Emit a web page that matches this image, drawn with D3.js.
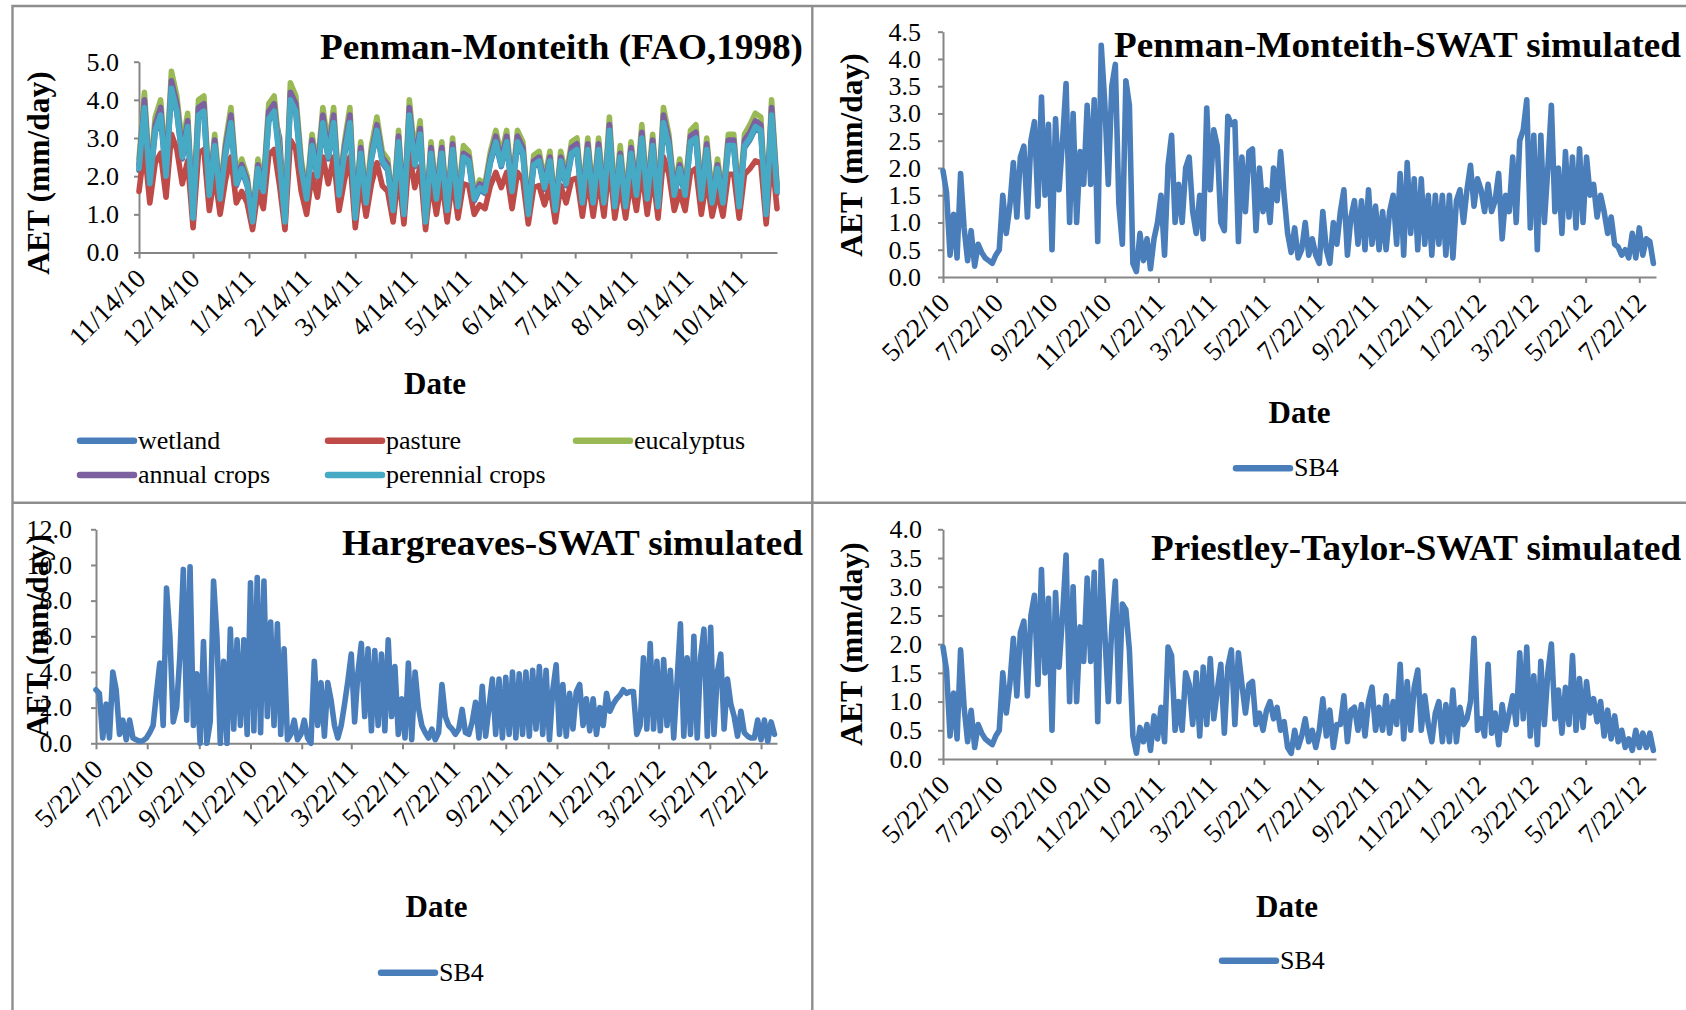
<!DOCTYPE html>
<html>
<head>
<meta charset="utf-8">
<script src="https://cdn.jsdelivr.net/npm/d3@7"></script>
<style>
  html, body { margin: 0; padding: 0; background: #fff; }
  svg { display: block; font-family: "Liberation Serif", "Times New Roman", serif; }
</style>
</head>
<body>
<svg id="chart" width="1686" height="1010"></svg>
<script>
// ---------------------------------------------------------------
// Daily actual evapotranspiration (AET, mm/day), sampled series
// ---------------------------------------------------------------

// Penman-Monteith (FAO, 1998): five land uses, one value every 3 days
const faoStart = "11/14/10";
const faoEnd = "11/3/11";
const faoStepDays = 3;
const faoSeriesNames = ["wetland", "pasture", "eucalyptus", "annual crops", "perennial crops"];

const faoWetland = [
  2.15,3.75,1.75,3.15,3.55,1.95,4.25,3.65,2.45,3.25,
  0.85,3.55,3.65,1.45,2.75,1.35,2.55,3.35,1.75,2.15,
  1.75,0.75,2.15,1.55,3.45,3.65,3.0,0.75,3.95,3.65,
  2.15,1.35,2.75,1.95,3.35,2.45,3.35,1.45,2.55,3.35,
  0.85,2.55,1.25,2.45,3.15,2.35,2.15,1.05,2.85,0.95,
  3.55,2.25,3.05,0.75,2.55,1.35,2.55,1.05,2.65,1.15,
  2.45,2.35,1.35,1.65,1.55,2.35,2.85,2.25,2.85,1.55,
  2.85,2.55,0.95,2.25,2.35,1.65,2.35,1.05,2.35,1.75,
  2.55,2.65,1.25,2.65,1.25,2.65,1.25,3.15,1.15,2.45,
  1.15,2.55,1.45,2.95,1.35,2.75,1.15,3.35,2.75,1.45,
  2.15,1.45,2.85,2.95,1.35,2.65,1.25,2.15,1.25,2.75,
  2.75,1.15,2.75,2.95,3.25,3.15,0.95,3.55,1.55
];
const faoPasture = [
  1.6,2.75,1.3,2.35,2.6,1.45,3.1,2.7,1.8,2.4,
  0.65,2.6,2.7,1.1,2.05,1.0,1.9,2.5,1.3,1.6,
  1.3,0.6,1.6,1.15,2.55,2.7,1.75,0.6,2.95,2.7,
  1.6,1.0,2.05,1.45,2.5,1.8,2.5,1.1,1.9,2.5,
  0.65,1.9,0.95,1.8,2.35,1.75,1.6,0.8,2.1,0.75,
  2.6,1.7,2.25,0.6,1.9,1.0,1.9,0.8,1.95,0.9,
  1.8,1.75,1.0,1.25,1.15,1.75,2.1,1.7,2.1,1.15,
  2.1,1.9,0.75,1.7,1.75,1.25,1.75,0.8,1.75,1.3,
  1.9,1.95,0.95,1.95,0.95,1.95,0.95,2.35,0.9,1.8,
  0.9,1.9,1.1,2.2,1.0,2.05,0.9,2.5,2.05,1.1,
  1.6,1.1,2.1,2.2,1.0,1.95,0.95,1.6,0.95,2.05,
  2.05,0.9,2.05,2.2,2.4,2.35,0.75,2.6,1.15
];
const faoEucalyptus = [
  2.45,4.2,2.0,3.55,4.0,2.2,4.75,4.1,2.8,3.65,
  1.0,4.0,4.1,1.65,3.1,1.55,2.9,3.8,2.0,2.45,
  2.0,0.9,2.45,1.8,3.9,4.1,2.65,0.9,4.45,4.1,
  2.45,1.55,3.1,2.2,3.8,2.8,3.8,1.65,2.9,3.8,
  1.0,2.9,1.45,2.8,3.55,2.65,2.45,1.2,3.2,1.1,
  4.0,2.55,3.45,0.9,2.9,1.55,2.9,1.2,3.0,1.35,
  2.8,2.65,1.55,1.9,1.8,2.65,3.2,2.55,3.2,1.8,
  3.2,2.9,1.1,2.55,2.65,1.9,2.65,1.2,2.65,2.0,
  2.9,3.0,1.45,3.0,1.45,3.0,1.45,3.55,1.35,2.8,
  1.35,2.9,1.65,3.35,1.55,3.1,1.35,3.8,3.1,1.65,
  2.45,1.65,3.2,3.35,1.55,3.0,1.45,2.45,1.45,3.1,
  3.1,1.35,3.1,3.35,3.65,3.55,1.1,4.0,1.8
];
const faoAnnualCrops = [
  2.3,4.0,1.9,3.35,3.8,2.1,4.5,3.9,2.6,3.45,
  0.95,3.8,3.9,1.6,2.95,1.45,2.75,3.6,1.9,2.3,
  1.9,0.85,2.3,1.7,3.7,3.9,2.5,0.85,4.2,3.9,
  2.3,1.45,2.95,2.1,3.6,2.6,3.6,1.6,2.75,3.6,
  0.95,2.75,1.35,2.6,3.35,2.5,2.3,1.15,3.05,1.05,
  3.8,2.4,3.25,0.85,2.75,1.45,2.75,1.15,2.85,1.25,
  2.6,2.5,1.45,1.8,1.7,2.5,3.05,2.4,3.05,1.7,
  3.05,2.75,1.05,2.4,2.5,1.8,2.5,1.15,2.5,1.9,
  2.75,2.85,1.35,2.85,1.35,2.85,1.35,3.35,1.25,2.6,
  1.25,2.75,1.6,3.15,1.45,2.95,1.25,3.6,2.95,1.6,
  2.3,1.6,3.05,3.15,1.45,2.85,1.35,2.3,1.35,2.95,
  2.95,1.25,2.95,3.15,3.45,3.35,1.05,3.8,1.7
];
const faoPerennialCrops = [
  2.2,3.8,1.8,3.2,3.6,2.0,4.3,3.7,2.5,3.3,
  0.9,3.6,3.7,1.5,2.8,1.4,2.6,3.4,1.8,2.2,
  1.8,0.8,2.2,1.6,3.5,3.7,2.4,0.8,4.0,3.7,
  2.2,1.4,2.8,2.0,3.4,2.5,3.4,1.5,2.6,3.4,
  0.9,2.6,1.3,2.5,3.2,2.4,2.2,1.1,2.9,1.0,
  3.6,2.3,3.1,0.8,2.6,1.4,2.6,1.1,2.7,1.2,
  2.5,2.4,1.4,1.7,1.6,2.4,2.9,2.3,2.9,1.6,
  2.9,2.6,1.0,2.3,2.4,1.7,2.4,1.1,2.4,1.8,
  2.6,2.7,1.3,2.7,1.3,2.7,1.3,3.2,1.2,2.5,
  1.2,2.6,1.5,3.0,1.4,2.8,1.2,3.4,2.8,1.5,
  2.2,1.5,2.9,3.0,1.4,2.7,1.3,2.2,1.3,2.8,
  2.8,1.2,2.8,3.0,3.3,3.2,1.0,3.6,1.6
];

// SWAT simulations for sub-basin SB4, one value every 4 days
const swatStart = "5/22/10";
const swatEnd = "8/10/12";
const swatStepDays = 4;
const swatSeriesName = "SB4";

const pmSwatSB4 = [
  1.95,1.55,0.4,1.15,0.35,1.9,0.9,0.3,0.85,0.2,0.6,0.45,0.35,0.3,0.25,0.4,
  0.5,1.5,0.8,1.3,2.1,1.1,2.2,2.4,1.1,2.5,2.85,1.3,3.3,1.5,2.8,
  0.5,2.9,1.6,2.5,3.55,1.0,3.0,1.0,2.3,1.7,3.15,1.7,3.25,0.65,4.25,
  3.2,1.7,3.5,3.9,1.35,0.6,3.6,3.15,0.25,0.1,0.8,0.3,0.7,0.15,0.7,1.0,
  1.5,0.4,2.05,2.6,1.0,1.7,1.0,2.0,2.2,1.2,0.8,1.5,0.7,3.1,1.6,
  2.7,2.4,1.0,0.85,2.95,2.8,2.85,0.65,2.2,1.2,2.3,2.35,0.85,2.0,1.2,
  1.6,1.0,2.0,1.4,2.3,1.5,0.8,0.45,0.9,0.35,0.5,1.0,0.4,0.7,0.4,
  0.25,1.2,0.5,0.25,1.0,0.6,1.2,1.6,0.4,1.1,1.4,0.6,1.4,0.5,1.6,0.6,
  1.3,0.5,1.2,0.5,1.2,1.5,0.6,1.9,0.4,2.1,0.8,1.8,0.5,1.8,0.6,
  1.5,0.4,1.5,0.6,1.5,0.4,1.5,0.35,1.4,1.6,1.0,1.6,2.05,1.3,1.8,
  1.6,1.2,1.7,1.2,1.4,1.9,0.7,1.5,1.2,2.2,1.0,2.5,2.7,3.25,0.9,
  2.6,0.5,2.6,1.0,2.0,3.15,1.2,2.0,0.8,2.3,1.1,2.2,0.9,2.35,1.0,
  2.2,1.5,1.7,1.1,1.5,1.2,0.8,1.1,0.6,0.55,0.4,0.5,0.35,0.8,0.35,0.9,
  0.4,0.7,0.65,0.25
];

const hargreavesSB4 = [
  3.0,2.8,0.3,2.2,0.3,4.0,3.0,0.5,1.3,0.2,1.3,0.3,0.2,0.1,0.15,0.3,
  0.6,1.0,2.8,4.5,1.0,8.7,6.0,1.2,2.0,5.0,9.75,1.3,9.9,1.0,3.9,
  0.0,5.7,0.0,1.2,9.1,6.0,0.0,4.6,0.0,6.4,0.8,5.8,1.0,5.8,0.5,
  9.0,0.7,9.3,0.6,9.1,1.5,6.8,1.0,6.7,0.5,5.3,0.2,0.5,1.3,0.2,0.5,
  1.3,0.3,0.0,4.6,1.0,3.4,0.4,3.4,2.4,1.0,0.3,1.0,2.2,3.5,5.0,
  1.2,4.0,5.6,1.5,5.3,0.7,5.2,1.0,5.0,0.7,5.8,1.5,4.3,0.5,2.5,
  0.3,4.5,0.2,4.0,2.0,1.0,0.6,0.3,0.8,0.2,0.6,3.3,1.5,1.0,0.8,
  0.5,0.8,1.9,0.6,0.5,1.2,2.3,0.3,3.2,0.4,2.0,3.6,0.5,3.6,0.3,3.7,
  0.5,4.0,0.3,3.9,0.5,4.0,0.4,4.1,0.8,4.3,0.5,4.1,0.2,3.0,4.4,
  0.5,3.3,0.4,2.8,0.8,2.9,3.3,1.0,2.5,0.7,2.5,0.5,2.0,1.0,2.8,
  1.8,2.2,2.5,2.7,3.0,2.8,2.9,2.9,0.5,1.0,4.8,0.8,5.6,0.8,4.6,
  0.7,4.7,1.0,4.1,0.3,3.5,6.7,0.4,4.8,0.5,6.0,0.3,4.8,6.4,0.4,
  6.5,0.5,4.0,5.0,0.8,3.6,2.2,1.5,0.4,1.8,0.6,0.4,0.3,0.3,1.3,0.2,
  1.3,0.1,1.2,0.5
];

const priestleyTaylorSB4 = [
  1.95,1.55,0.4,1.15,0.35,1.9,0.9,0.3,0.85,0.2,0.6,0.45,0.35,0.3,0.25,0.4,
  0.5,1.5,0.8,1.3,2.1,1.1,2.2,2.4,1.1,2.5,2.85,1.3,3.3,1.5,2.8,
  0.5,2.9,1.6,2.5,3.55,1.0,3.0,1.0,2.3,1.7,3.15,1.7,3.25,0.65,3.45,
  2.2,1.0,2.3,3.1,1.0,2.7,2.6,1.9,0.4,0.1,0.55,0.3,0.6,0.15,0.75,0.35,
  0.9,0.3,1.95,1.8,0.5,1.0,0.5,1.5,1.3,0.6,1.5,0.4,1.6,0.6,1.75,
  0.7,1.2,1.65,0.45,1.6,1.9,0.6,1.85,1.3,0.8,1.3,1.35,0.6,0.8,0.5,
  0.85,1.0,0.7,0.9,0.5,0.65,0.2,0.1,0.5,0.2,0.4,0.7,0.3,0.5,0.2,
  0.5,1.05,0.4,0.85,0.2,0.6,0.6,1.1,0.3,0.85,0.9,0.5,0.95,0.4,1.0,1.25,
  0.5,0.9,0.5,1.1,0.45,1.0,0.6,1.65,0.35,1.35,0.5,1.25,1.55,0.5,1.1,
  0.6,0.3,0.8,1.0,0.3,0.95,0.3,1.2,0.3,0.9,0.6,0.7,1.0,2.1,0.5,
  0.7,0.4,1.65,0.45,0.8,0.25,0.95,0.5,0.8,1.1,0.6,1.85,0.7,1.95,0.4,
  1.45,0.25,1.7,0.6,1.5,2.0,0.7,1.2,0.45,1.25,0.6,1.8,0.5,1.4,0.55,
  1.35,0.8,1.05,0.65,1.0,0.4,0.85,0.35,0.75,0.3,0.5,0.2,0.35,0.15,0.5,0.2,
  0.45,0.2,0.45,0.15
];

// Axis tick labels
const faoTickLabels = ["11/14/10","12/14/10","1/14/11","2/14/11","3/14/11","4/14/11",
  "5/14/11","6/14/11","7/14/11","8/14/11","9/14/11","10/14/11"];
const swatTickLabels = ["5/22/10","7/22/10","9/22/10","11/22/10","1/22/11","3/22/11",
  "5/22/11","7/22/11","9/22/11","11/22/11","1/22/12","3/22/12","5/22/12","7/22/12"];
const faoYTicks = [0, 1, 2, 3, 4, 5];
const pmSwatYTicks = [0, 0.5, 1, 1.5, 2, 2.5, 3, 3.5, 4, 4.5];
const hargreavesYTicks = [0, 2, 4, 6, 8, 10, 12];
const priestleyTaylorYTicks = [0, 0.5, 1, 1.5, 2, 2.5, 3, 3.5, 4];

const panelTitles = ["Penman-Monteith (FAO,1998)", "Penman-Monteith-SWAT simulated",
  "Hargreaves-SWAT simulated", "Priestley-Taylor-SWAT simulated"];
const xTitle = "Date";
const yTitle = "AET (mm/day)";

// ---------------------------------------------------------------
// Drawing
// ---------------------------------------------------------------
const parseDate = d3.timeParse("%m/%d/%y");
const svg = d3.select("#chart");
const axisColor = "#868686";
const frameColor = "#8e8e8e";
const faoColors = ["#4A7EBB", "#BE4B48", "#98B954", "#7D60A0", "#46AAC5"];
const sb4Color = "#4A7EBB";
const seriesWidth = 5.6;

function toPoints(startStr, stepDays, values) {
  const start = parseDate(startStr);
  return values.map((v, i) => ({ date: d3.timeDay.offset(start, i * stepDays), value: v }));
}

// Panel frame (outer box and dividers)
svg.append("path")
  .attr("d", "M12.5,1010 V6 H1686 M812.3,6 V1010 M12.5,502.7 H1686")
  .attr("fill", "none")
  .attr("stroke", frameColor)
  .attr("stroke-width", 2.4);

function drawPanel(cfg) {
  const g = svg.append("g");
  const x = d3.scaleTime()
    .domain([parseDate(cfg.start), parseDate(cfg.end)])
    .range([cfg.x0, cfg.x1]);
  const y = d3.scaleLinear()
    .domain([0, cfg.yMax])
    .range([cfg.yBottom, cfg.yTop]);

  // y axis
  const yAxis = d3.axisLeft(y)
    .tickValues(cfg.yTicks)
    .tickSize(5)
    .tickSizeOuter(0)
    .tickPadding(cfg.yLabelGap - 5)
    .tickFormat(d3.format(".1f"));
  const ya = g.append("g").attr("transform", `translate(${cfg.x0},0)`).call(yAxis);
  ya.attr("font-family", null).attr("font-size", null);
  ya.select(".domain").attr("stroke", axisColor).attr("stroke-width", 2);
  ya.selectAll(".tick line").attr("stroke", axisColor).attr("stroke-width", 2);
  ya.selectAll(".tick text")
    .attr("fill", "#000")
    .style("font-size", "26px");

  // x axis with dated ticks
  const tickDates = cfg.tickLabels.map(parseDate);
  const xAxis = d3.axisBottom(x)
    .tickValues(tickDates)
    .tickSize(6)
    .tickSizeOuter(0)
    .tickFormat((d, i) => cfg.tickLabels[i]);
  const xa = g.append("g").attr("transform", `translate(0,${cfg.yBottom})`).call(xAxis);
  xa.attr("font-family", null).attr("font-size", null);
  xa.select(".domain").attr("stroke", axisColor).attr("stroke-width", 2);
  xa.selectAll(".tick line").attr("stroke", axisColor).attr("stroke-width", 2);
  xa.selectAll(".tick text")
    .attr("y", null)
    .attr("dy", "0.35em")
    .attr("text-anchor", "end")
    .attr("transform", `translate(${cfg.xLabelDx},${cfg.xLabelDy}) rotate(-45)`)
    .attr("fill", "#000")
    .style("font-size", "27px");

  // series lines
  const line = d3.line()
    .x(d => x(d.date))
    .y(d => y(d.value))
    .curve(d3.curveLinear);
  cfg.series.forEach(s => {
    g.append("path")
      .datum(toPoints(cfg.start, cfg.step, s.values))
      .attr("fill", "none")
      .attr("stroke", s.color)
      .attr("stroke-width", seriesWidth)
      .attr("stroke-linejoin", "round")
      .attr("stroke-linecap", "round")
      .attr("d", line);
  });

  // chart title
  g.append("text")
    .attr("x", cfg.title.x)
    .attr("y", cfg.title.y)
    .attr("textLength", cfg.title.w)
    .attr("lengthAdjust", "spacingAndGlyphs")
    .style("font-size", "36.5px")
    .style("font-weight", "bold")
    .text(cfg.title.text);

  // axis titles
  g.append("text")
    .attr("x", cfg.xTitle.x)
    .attr("y", cfg.xTitle.y)
    .attr("text-anchor", "middle")
    .style("font-size", "31px")
    .style("font-weight", "bold")
    .text(xTitle);
  g.append("text")
    .attr("transform", `translate(${cfg.yTitle.x},${cfg.yTitle.y}) rotate(-90)`)
    .attr("text-anchor", "middle")
    .attr("dy", "0.33em")
    .style("font-size", "31.5px")
    .style("font-weight", "bold")
    .text(yTitle);

  // legend
  cfg.legend.forEach(item => {
    g.append("line")
      .attr("x1", item.x).attr("x2", item.x + 54)
      .attr("y1", item.y).attr("y2", item.y)
      .attr("stroke", item.color)
      .attr("stroke-width", 6.5)
      .attr("stroke-linecap", "round");
    g.append("text")
      .attr("x", item.x + 58)
      .attr("y", item.y + 8)
      .style("font-size", "26px")
      .text(item.name);
  });
}

// Penman-Monteith (FAO, 1998)
const faoValues = [faoWetland, faoPasture, faoEucalyptus, faoAnnualCrops, faoPerennialCrops];
const faoLegendPos = [[80, 440.7], [328, 440.7], [576, 440.7], [80, 475], [328, 475]];
drawPanel({
  start: faoStart, end: faoEnd, step: faoStepDays,
  x0: 139, x1: 777, yTop: 61.7, yBottom: 252.5, yMax: 5,
  yTicks: faoYTicks, yLabelGap: 20, tickLabels: faoTickLabels,
  xLabelDx: 1, xLabelDy: 21,
  series: faoValues.map((v, i) => ({ values: v, color: faoColors[i] })),
  title: { text: panelTitles[0], x: 320, y: 58.5, w: 483 },
  xTitle: { x: 435, y: 394 },
  yTitle: { x: 39, y: 173 },
  legend: faoSeriesNames.map((n, i) => ({ name: n, color: faoColors[i], x: faoLegendPos[i][0], y: faoLegendPos[i][1] }))
});

// Penman-Monteith-SWAT
drawPanel({
  start: swatStart, end: swatEnd, step: swatStepDays,
  x0: 943, x1: 1656, yTop: 31.7, yBottom: 277, yMax: 4.5,
  yTicks: pmSwatYTicks, yLabelGap: 22, tickLabels: swatTickLabels,
  xLabelDx: 1, xLabelDy: 21,
  series: [{ values: pmSwatSB4, color: sb4Color }],
  title: { text: panelTitles[1], x: 1114, y: 56.7, w: 567 },
  xTitle: { x: 1299.5, y: 423 },
  yTitle: { x: 852, y: 155 },
  legend: [{ name: swatSeriesName, color: sb4Color, x: 1236, y: 468.3 }]
});

// Hargreaves-SWAT
drawPanel({
  start: swatStart, end: swatEnd, step: swatStepDays,
  x0: 96, x1: 777, yTop: 529.3, yBottom: 743.3, yMax: 12,
  yTicks: hargreavesYTicks, yLabelGap: 24, tickLabels: swatTickLabels,
  xLabelDx: 1, xLabelDy: 21,
  series: [{ values: hargreavesSB4, color: sb4Color }],
  title: { text: panelTitles[2], x: 342, y: 555, w: 461 },
  xTitle: { x: 436.6, y: 917 },
  yTitle: { x: 38, y: 636 },
  legend: [{ name: swatSeriesName, color: sb4Color, x: 381, y: 972.7 }]
});

// Priestley-Taylor-SWAT
drawPanel({
  start: swatStart, end: swatEnd, step: swatStepDays,
  x0: 943, x1: 1656, yTop: 529.3, yBottom: 759, yMax: 4,
  yTicks: priestleyTaylorYTicks, yLabelGap: 21, tickLabels: swatTickLabels,
  xLabelDx: 1, xLabelDy: 21,
  series: [{ values: priestleyTaylorSB4, color: sb4Color }],
  title: { text: panelTitles[3], x: 1151, y: 560, w: 530 },
  xTitle: { x: 1287, y: 917 },
  yTitle: { x: 852, y: 644 },
  legend: [{ name: swatSeriesName, color: sb4Color, x: 1222, y: 960.7 }]
});
</script>
</body>
</html>
